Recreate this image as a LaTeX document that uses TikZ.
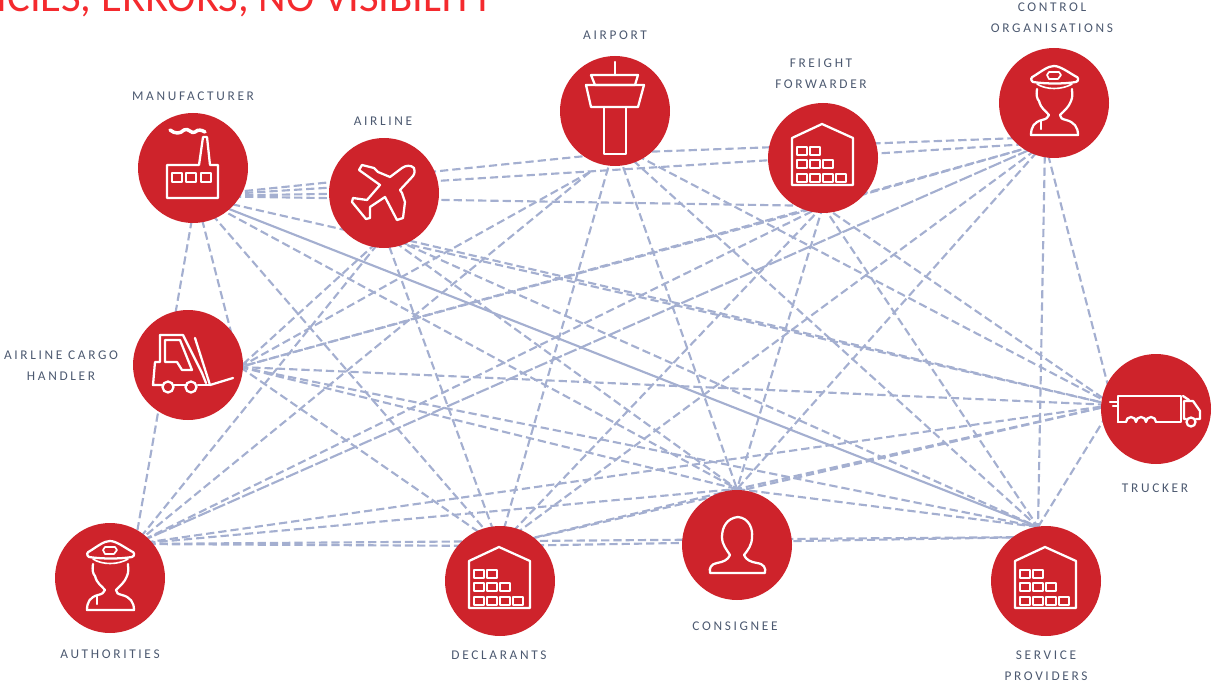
\documentclass[tikz,border=0pt]{standalone}
\usepackage{fontspec}
\setmainfont{Carlito}
\newfontfamily\tagfont[LetterSpace=20]{Carlito}
\usepackage{xcolor}
\usetikzlibrary{backgrounds}
\definecolor{hubred}{HTML}{CE232B}
\definecolor{titlered}{HTML}{F42A2E}
\definecolor{tagblue}{HTML}{4C5970}
\definecolor{linkblue}{HTML}{A4AFD0}
\tikzset{
    hub/.style = {
        circle,
        fill           = hubred,
        minimum size   = 82.5pt,
        inner sep      = 0pt,
    },
    tag/.style = {
        font           = \tagfont\fontsize{10}{15.6}\selectfont,
        text           = tagblue,
        align          = center,
    },
    link/.style = {
        draw           = linkblue,
        line width     = 1.6pt,
    },
    dashlink/.style = {
        link,
        dash pattern   = on 6.2pt off 3pt,
    },
    longlink/.style = {
        link,
        dash pattern   = on 10pt off 2pt,
    },
    icon/.style = {
        draw           = white,
        line width     = 1.7pt,
        line join      = round,
        line cap       = round,
    },
    warehouse/.pic = {
        \draw [icon] (-31,27) -- (-31,-20) -- (-1,-34) -- (30,-20) -- (30,27) -- cycle;
        \foreach \x/\y in {-21/-7, -8/-7, -21/6, -8/6, 5/6, -21/20, -8/20, 5/20, 18/20}
            \draw [icon, line width=1.4pt] (\x-5,\y-4) rectangle (\x+5,\y+4);
    },
    officer/.pic = {
        \draw [icon] (-21,-21) .. controls (-24,-23) and (-23,-26) .. (-20,-27) .. controls (-12,-32) and (-6,-37) .. (0,-37)
            .. controls (6,-37) and (14,-31) .. (21,-27) .. controls (25,-26) and (25,-22) .. (22,-21)
            .. controls (10,-19) and (-8,-19) .. (-21,-21) -- cycle;
        \draw [icon, line width=1.2pt] (-17,-19) .. controls (-8,-13) and (8,-13) .. (18,-19);
        \draw [icon, line width=1.3pt] (-5,-31) -- (5,-31) -- (7,-28) -- (4,-24) -- (-5,-24) -- (-7,-28) -- cycle;
        \draw [icon] (-17,-14) .. controls (-18,-8) and (-17,-4) .. (-15,-2) .. controls (-13,6) and (-8,8) .. (-5,12)
            .. controls (-6,15) and (-8,16) .. (-12,17) .. controls (-20,19) and (-23,24) .. (-23,32)
            -- (24,32) .. controls (24,24) and (20,19) .. (12,17) .. controls (8,16) and (6,15) .. (6,12)
            .. controls (10,8) and (15,4) .. (17,-2) .. controls (19,-6) and (18,-10) .. (18,-14);
        \draw [icon] (-13,18) -- (-13,26);
    },
    tower/.pic = {
        \draw [icon] (0,-49) -- (0,-36);
        \draw [icon] (-24,-36) -- (23,-36) -- (20,-26) -- (-20,-26) -- cycle;
        \draw [icon] (-29,-26) -- (29,-26) -- (23,-4) -- (-24,-4) -- cycle;
        \draw [icon] (-11,-4) -- (-11,43) -- (11,43) -- (11,-4);
    },
    factory/.pic = {
        \draw [icon] (-26,-3) -- (6,-3) -- (10,-31) -- (14,-31) -- (17,-3) -- (25,-3) -- (25,30) -- (-26,30) -- cycle;
        \foreach \x in {-16, -2, 13}
            \draw [icon, line width=1.4pt] (\x-5,5) rectangle (\x+5,14);
        \draw [icon, line width=2.6pt] (-23,-38) .. controls (-18,-34) and (-13,-34) .. (-9,-38)
            .. controls (-5,-41) and (-1,-33) .. (2,-36) .. controls (5,-39) and (9,-38) .. (12,-36);
    },
    plane/.pic = {
        \draw [icon] (30,-25) .. controls (27,-28) and (22,-28) .. (18,-25) -- (6,-16) -- (-6,-21) -- (-10,-25) -- (-22,-28)
            -- (-25,-23) -- (-4,-8) -- (-17,7) -- (-31,5) -- (-32,9) -- (-18,26) -- (-14,25) -- (-14,14)
            -- (1,4) -- (13,27) -- (19,25) -- (21,9) -- (18,0) -- (16,-3) -- (29,-17) .. controls (31,-20) and (31,-23) .. (30,-25) -- cycle;
    },
    forklift/.pic = {
        \draw [icon] (-28,-30) -- (-5,-30) -- (14,8) -- (18,18);
        \draw [icon] (-28,-30) -- (-28,-3) -- (-33,-3) -- (-35,20) -- (-25,20);
        \draw [icon] (-23,-25) -- (-8,-25) -- (4,5) -- (-6,5) -- (-11,-3) -- (-23,-3) -- cycle;
        \draw [icon] (7,-27) -- (22,20) -- (45,13);
        \draw [icon] (-14,20) -- (-1,20) (10,20) -- (22,20);
        \draw [icon] (-20,22) circle (5.5) (3,22) circle (5.5);
    },
    truck/.pic = {
        \draw [icon] (-38,13) -- (-38,-13) -- (25,-13) -- (25,13) -- (0,13);
        \draw [icon] (-38,13) -- (-30,13);
        \draw [icon] (-30,13) arc [start angle=180, end angle=360, radius=5] arc [start angle=180, end angle=360, radius=5] arc [start angle=180, end angle=360, radius=5];
        \draw [icon] (-46,-7) -- (-38,-7) (-43,-3) -- (-38,-3);
        \draw [icon] (28,10) -- (28,-8) -- (37,-8) -- (44,2) -- (44,10) -- (40,10) (28,10) -- (30,10);
        \draw [icon] (35,13) circle (4.5);
        \draw [icon] (27,-13) -- (33,-9);
    },
    person/.pic = {
        \draw [icon] (-27,28) -- (28,28) .. controls (29,23) and (27,19) .. (20,18) .. controls (14,17) and (9,15) .. (7,10)
            .. controls (11,5) and (15,0) .. (15,-8) .. controls (16,-16) and (12,-27) .. (1,-28)
            .. controls (-10,-27) and (-15,-18) .. (-15,-8) .. controls (-15,0) and (-10,5) .. (-7,10)
            .. controls (-9,15) and (-14,17) .. (-20,18) .. controls (-26,19) and (-28,23) .. (-27,28) -- cycle;
    },
}
\begin{document}
\begin{tikzpicture}[x=0.75pt, y=-0.75pt]
    \useasboundingbox (0,0) rectangle (1212,681);
    \clip (0,0) rectangle (1212,681);

    \node (title) [anchor=base east, text=titlered, inner sep=0pt, font=\fontsize{32}{32}\selectfont] at (494,12) {ICIES, ERRORS, NO VISIBILITY};

    \node at (193,168) (man) [hub] {};
    \node at (384,193) (airline) [hub] {};
    \node at (615,111) (airport) [hub] {};
    \node at (823,158) (freight) [hub] {};
    \node at (1054,103) (control) [hub] {};
    \node at (188,365) (handler) [hub] {};
    \node at (1156,409) (trucker) [hub] {};
    \node at (110,578) (auth) [hub] {};
    \node at (500,581) (decl) [hub] {};
    \node at (737,545) (consignee) [hub] {};
    \node at (1046,581) (service) [hub] {};

    \pic at (man) {factory};
    \pic at (airline) {plane};
    \pic at (airport) {tower};
    \pic at (freight) {warehouse};
    \pic at (control) {officer};
    \pic at (handler) {forklift};
    \pic at (trucker) {truck};
    \pic at (auth) {officer};
    \pic at (decl) {warehouse};
    \pic at (consignee) {person};
    \pic at (service) {warehouse};

    \node (manlabel) [tag] at (193,96) {MANUFACTURER};
    \node (airlinelabel) [tag] at (383,121) {AIRLINE};
    \node (airportlabel) [tag] at (615,35) {AIRPORT};
    \node (freightlabel) [tag] at (821,74) {FREIGHT\\FORWARDER};
    \node (controllabel) [tag] at (1052,18) {CONTROL\\ORGANISATIONS};
    \node (handlerlabel) [tag] at (61,366) {AIRLINE CARGO\\HANDLER};
    \node (truckerlabel) [tag] at (1155,488) {TRUCKER};
    \node (authlabel) [tag] at (110,654) {AUTHORITIES};
    \node (decllabel) [tag] at (499,655) {DECLARANTS};
    \node (consigneelabel) [tag] at (735,626) {CONSIGNEE};
    \node (servicelabel) [tag] at (1046,666) {SERVICE\\PROVIDERS};

    % where the lines meet, all of them under the discs
    \coordinate (manhub) at (196,196);
    \coordinate (airlinehub) at (385,235);
    \coordinate (airportup) at (615,144);
    \coordinate (airportleft) at (590,172);
    \coordinate (airportright) at (615,153);
    \coordinate (freighthub) at (823,206);
    \coordinate (controlhub) at (1045,143);
    \coordinate (controlleft) at (1020,138);
    \coordinate (handlerhub) at (240,367);
    \coordinate (truckerhub) at (1113,405);
    \coordinate (authhub) at (135,544);
    \coordinate (declhub) at (499,546);
    \coordinate (consigneehub) at (737,489);
    \coordinate (servicehub) at (1038,527);
    \coordinate (serviceleft) at (1040,537);

    \begin{scope}[on background layer]
        \foreach \a/\b in {
            manhub/airline, manhub/airportright, manhub/freighthub, manhub/controlhub,
            manhub/handlerhub, manhub/truckerhub, manhub/authhub, manhub/declhub, manhub/consigneehub,
            airlinehub/handlerhub, airlinehub/truckerhub, airlinehub/authhub,
            airlinehub/declhub, airlinehub/consigneehub, airlinehub/servicehub,
            airportright/controlleft, airportleft/handlerhub, airportup/truckerhub,
            airportleft/authhub, airportup/declhub, airportup/consigneehub, airportup/servicehub,
            freighthub/controlhub, freighthub/handlerhub, freighthub/truckerhub, freighthub/authhub,
            freighthub/declhub, freighthub/consigneehub, freighthub/servicehub,
            controlhub/handlerhub, controlhub/truckerhub, controlhub/declhub,
            controlhub/consigneehub, controlhub/servicehub,
            handlerhub/truckerhub, handlerhub/declhub, handlerhub/consigneehub, handlerhub/servicehub,
            truckerhub/authhub, truckerhub/declhub, truckerhub/consigneehub, truckerhub/servicehub,
            authhub/declhub, authhub/consigneehub, authhub/serviceleft,
            declhub/consigneehub, declhub/serviceleft, consigneehub/servicehub}
            \draw [dashlink] (\a) -- (\b);
        \draw [link] (manhub) -- (servicehub);
        \draw [longlink] (controlhub) -- (authhub);
    \end{scope}
\end{tikzpicture}
\end{document}
